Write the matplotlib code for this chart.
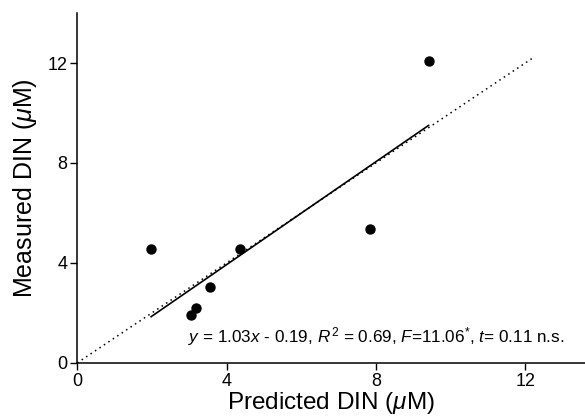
import matplotlib.pyplot as plt

plt.rcParams['font.family'] = ['Liberation Sans', 'DejaVu Sans']
plt.rcParams['mathtext.fontset'] = 'custom'
plt.rcParams['mathtext.rm'] = 'Liberation Sans'
plt.rcParams['mathtext.it'] = 'Liberation Sans:italic'

# values
predicted = [1.98, 3.04, 3.17, 3.55, 4.36, 7.83, 9.41]
measured = [4.54, 1.92, 2.20, 3.04, 4.55, 5.36, 12.1]
slope = 1.03
intercept = -0.19
one_to_one = [0, 12.2]
ticks = [0, 4, 8, 12]

fig = plt.figure(figsize=(5.85, 4.2), dpi=100)
ax = fig.add_axes([0.132, 0.136, 0.868, 0.833])

ax.scatter(predicted, measured, s=42, color='black', zorder=3)

# fitted line over the range of the data
fx = [min(predicted), max(predicted)]
fy = [slope * v + intercept for v in fx]
ax.plot(fx, fy, color='black', linewidth=1.2)

# 1:1 line
ax.plot(one_to_one, one_to_one, color='black', linewidth=1.1, linestyle=(0, (1, 2.5)))

ax.set_xlim(0, 13.6)
ax.set_ylim(0, 14)
ax.set_xticks(ticks)
ax.set_yticks(ticks)
ax.tick_params(labelsize=13, length=5, width=1, direction='out', pad=2)

for s in ['top', 'right']:
    ax.spines[s].set_visible(False)
for s in ['left', 'bottom']:
    ax.spines[s].set_linewidth(1.1)

ax.set_xlabel(r'Predicted DIN ($\mathit{\mu}$M)', fontsize=17.5, labelpad=0)
ax.set_ylabel(r'Measured DIN ($\mathit{\mu}$M)', fontsize=18, labelpad=6)

ax.text(2.97, 0.8,
        r'$y$ = 1.03$x$ - 0.19, $R$$^{\,2}$ = 0.69, $F$=11.06$^{*}$, $t$= 0.11 n.s.',
        fontsize=12.3, ha='left', va='baseline')

fig.savefig('out.png', dpi=100)
